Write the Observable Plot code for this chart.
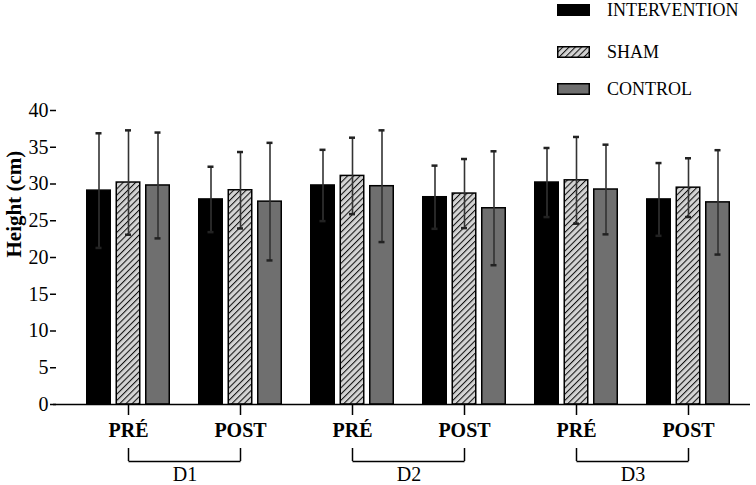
<!DOCTYPE html>
<html>
<head>
<meta charset="utf-8">
<script src="https://cdn.jsdelivr.net/npm/d3@7"></script>
<script src="https://cdn.jsdelivr.net/npm/@observablehq/plot@0.6"></script>
<style>
  html, body { margin: 0; padding: 0; background: #fff; }
  #wrap { position: relative; width: 756px; height: 485px; font-family: "Liberation Serif", serif; }
  #legend { position: absolute; left: 557px; top: 0; width: 199px; }
  .row { position: absolute; left: 0; display: flex; align-items: center; white-space: nowrap; font-size: 18px; line-height: 20px; color: #000; }
  .row svg { margin-right: 17px; flex: none; }
</style>
</head>
<body>
<div id="wrap">
  <div id="chart"></div>
  <div id="legend"></div>
</div>
<script>
// ---- data ----
const keys = ["D1 PRÉ", "D1 POST", "D2 PRÉ", "D2 POST", "D3 PRÉ", "D3 POST"];
const tickLabels = ["PRÉ", "POST", "PRÉ", "POST", "PRÉ", "POST"];
const days = ["D1", "D2", "D3"];
const series = ["INTERVENTION", "SHAM", "CONTROL"];
const interventionMean = [29.1, 27.9, 29.8, 28.2, 30.2, 27.9];
const interventionSD   = [7.8, 4.45, 4.85, 4.3, 4.7, 4.95];
const shamMean         = [30.2, 29.15, 31.1, 28.7, 30.5, 29.5];
const shamSD           = [7.1, 5.2, 5.2, 4.7, 5.9, 4.0];
const controlMean      = [29.8, 27.6, 29.7, 26.7, 29.25, 27.5];
const controlSD        = [7.2, 8.0, 7.6, 7.75, 6.1, 7.1];
const yTicks = [0, 5, 10, 15, 20, 25, 30, 35, 40];

// ---- table ----
const means = {INTERVENTION: interventionMean, SHAM: shamMean, CONTROL: controlMean};
const sds = {INTERVENTION: interventionSD, SHAM: shamSD, CONTROL: controlSD};
const rows = series.flatMap(s => keys.map((k, i) => ({key: k, series: s, mean: means[s][i], sd: sds[s][i]})));
const brackets = days.map((d, i) => ({day: d, start: keys[2 * i], end: keys[2 * i + 1]}));

const font = "Liberation Serif";
const offsets = {INTERVENTION: -29.5, SHAM: 0, CONTROL: 29.5};
const fills = {INTERVENTION: "#000000", SHAM: "url(#hatch)", CONTROL: "#6f6f6f"};

const marks = [];
for (const s of series) {
  const d = rows.filter(r => r.series === s);
  marks.push(Plot.barY(d, {x: "key", y: "mean", fill: fills[s], stroke: "#000", strokeWidth: 1.5,
    insetLeft: 44.25, insetRight: 44.25, dx: offsets[s]}));
}
for (const s of series) {
  const d = rows.filter(r => r.series === s);
  marks.push(Plot.ruleX(d, {x: "key", y1: r => r.mean - r.sd, y2: r => r.mean + r.sd, dx: offsets[s], stroke: "#333", strokeWidth: 1.6}));
  marks.push(Plot.tickY(d, {x: "key", y: r => r.mean + r.sd, dx: offsets[s], insetLeft: 53, insetRight: 53, stroke: "#222", strokeWidth: 2.5}));
  marks.push(Plot.tickY(d, {x: "key", y: r => r.mean - r.sd, dx: offsets[s], insetLeft: 53, insetRight: 53, stroke: "#222", strokeWidth: 2.5}));
}

const chart = Plot.plot({
  width: 756,
  height: 485,
  marginTop: 110,
  marginBottom: 81,
  marginLeft: 56,
  marginRight: 6,
  style: {fontFamily: font, background: "#fff", overflow: "visible"},
  x: {domain: keys, padding: 0, paddingOuter: 0.071, align: 0.72, axis: null},
  y: {domain: [0, 40], axis: null},
  marks: [
    ...marks,
    Plot.ruleY([0], {stroke: "#000", strokeWidth: 1.6, insetLeft: -3}),
    Plot.axisY({ticks: yTicks, tickSize: 6, tickPadding: 2, fontSize: 20, fontFamily: font, label: null, stroke: "#000", strokeWidth: 1.5, line: true, fill: "#000"}),
    Plot.axisX({tickFormat: d => tickLabels[keys.indexOf(d)], tickSize: 11, tickPadding: 7, fontSize: 20, fontWeight: "bold", fontFamily: font, label: null, stroke: "#000", strokeWidth: 1.5, fill: "#000"}),
    Plot.text(["Height (cm)"], {frameAnchor: "left", rotate: -90, dx: -42, fontSize: 21, fontWeight: "bold", fontFamily: font, fill: "#000"}),
    Plot.ruleX(keys, {x: d => d, insetTop: 338, insetBottom: -57, stroke: "#000", strokeWidth: 1.5}),
    Plot.link(brackets, {x1: "start", x2: "end", y1: 0, y2: 0, dy: 57, stroke: "#000", strokeWidth: 1.5}),
    Plot.text(brackets, {x: "start", y: 0, text: "day", dx: 56.5, dy: 70, fontSize: 20, fontFamily: font, fill: "#000"})
  ]
});

d3.select(chart).insert("defs", ":first-child").html(
  '<pattern id="hatch" patternUnits="userSpaceOnUse" width="4.4" height="4.4" patternTransform="rotate(45)">' +
  '<rect width="4.4" height="4.4" fill="#d4d4d4"></rect>' +
  '<line x1="0" y1="0" x2="0" y2="4.4" stroke="#111" stroke-width="2.1"></line></pattern>');
document.getElementById("chart").appendChild(chart);

// ---- legend ----
const legendTops = {INTERVENTION: 0, SHAM: 42, CONTROL: 79};
const legend = document.getElementById("legend");
for (const s of series) {
  const row = document.createElement("div");
  row.className = "row";
  row.style.top = legendTops[s] + "px";
  const fill = s === "SHAM" ? "url(#lhatch)" : fills[s];
  row.innerHTML =
    '<svg width="33" height="12"><defs><pattern id="lhatch" patternUnits="userSpaceOnUse" width="4.4" height="4.4" patternTransform="rotate(45)">' +
    '<rect width="4.4" height="4.4" fill="#d4d4d4"></rect><line x1="0" y1="0" x2="0" y2="4.4" stroke="#111" stroke-width="2.1"></line></pattern></defs>' +
    '<rect x="0.75" y="0.75" width="31.5" height="10.5" fill="' + fill + '" stroke="#000" stroke-width="1.5"></rect></svg>' +
    '<span>' + s + '</span>';
  legend.appendChild(row);
}
</script>
</body>
</html>
